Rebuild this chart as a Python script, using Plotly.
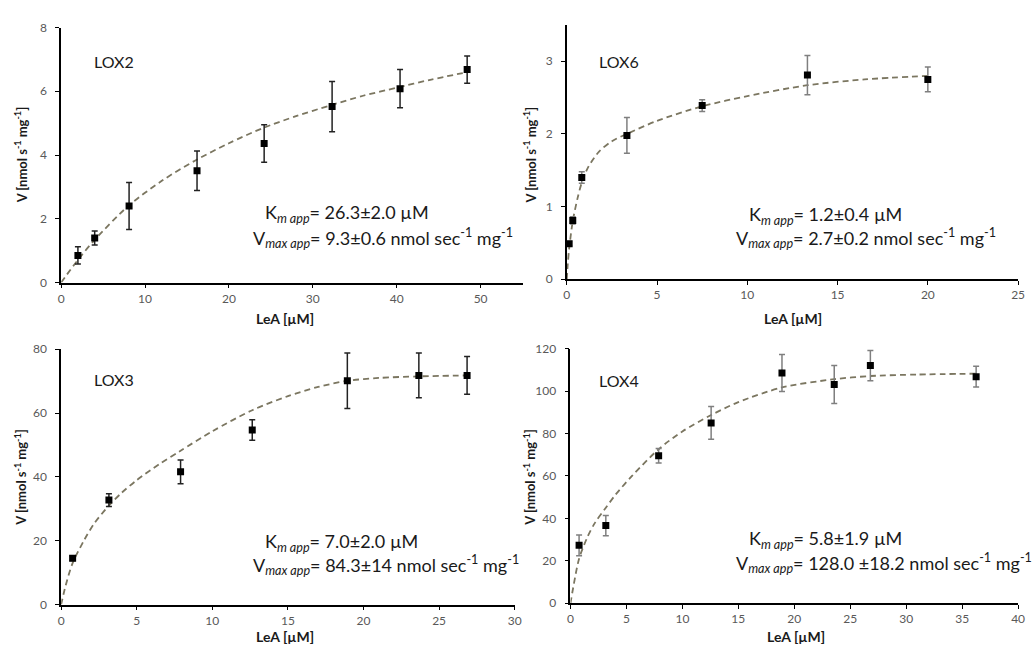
import plotly.graph_objects as go

W, H = 1035, 650

# ---------------- data ----------------
lox2_x = [2.0, 4.0, 8.1, 16.2, 24.2, 32.3, 40.4, 48.4]
lox2_y = [0.85, 1.40, 2.40, 3.51, 4.36, 5.52, 6.08, 6.68]
lox2_err = [0.27, 0.22, 0.74, 0.62, 0.59, 0.79, 0.60, 0.43]
lox2_fit_x = [0, 2, 4, 8, 12, 16, 20, 24, 28, 32, 36, 40, 44, 48.4]
lox2_fit_y = [0, 0.71, 1.34, 2.40, 3.19, 3.83, 4.37, 4.84, 5.22, 5.55, 5.86, 6.11, 6.36, 6.60]

lox6_x = [0.13, 0.33, 0.83, 3.33, 7.5, 13.33, 20.0]
lox6_y = [0.49, 0.81, 1.40, 1.98, 2.39, 2.81, 2.75]
lox6_err = [0.03, 0.05, 0.08, 0.245, 0.08, 0.27, 0.17]
lox6_fit_x = [0, 0.05, 0.13, 0.33, 0.6, 0.83, 1.2, 1.8, 2.5, 3.33, 5, 7.5, 10, 13.33, 16.5, 20]
lox6_fit_y = [0, 0.2, 0.42, 0.8, 1.12, 1.33, 1.55, 1.76, 1.90, 2.00, 2.18, 2.38, 2.52, 2.67, 2.75, 2.80]

lox3_x = [0.76, 3.16, 7.9, 12.64, 18.93, 23.66, 26.85]
lox3_y = [14.5, 32.75, 41.6, 54.7, 70.1, 71.8, 71.8]
lox3_err = [0.7, 2.0, 3.7, 3.2, 8.7, 7.0, 5.9]
lox3_fit_x = [0, 0.3, 0.76, 1.5, 2.2, 3.16, 4, 5, 6.5, 7.9, 10, 12.64, 15, 17, 18.93, 21, 23.66, 26.85]
lox3_fit_y = [0, 6, 13, 20, 25.5, 31, 35, 39, 44, 48.2, 54.3, 60.9, 65.3, 68.2, 70.1, 71.0, 71.5, 71.8]

lox4_x = [0.77, 3.16, 7.88, 12.57, 18.9, 23.57, 26.8, 36.25]
lox4_y = [27.3, 36.6, 69.5, 85.0, 108.5, 103.1, 112.0, 106.8]
lox4_err = [4.9, 4.8, 3.4, 7.7, 8.7, 9.0, 7.1, 4.9]
lox4_fit_x = [0, 0.3, 0.77, 1.5, 2.2, 3.16, 4, 5.5, 7.88, 10, 12.57, 15, 18.9, 23.57, 26.8, 31, 36.25]
lox4_fit_y = [0, 9, 21, 31, 38, 45, 51, 60, 72.6, 81, 88.7, 94.8, 101.7, 105.6, 107.1, 107.8, 108.2]

panel_names = ["LOX2", "LOX6", "LOX3", "LOX4"]
km_texts = ["26.3±2.0 µM", "1.2±0.4 µM", "7.0±2.0 µM", "5.8±1.9 µM"]
vmax_texts = ["9.3±0.6 nmol sec<sup>-1</sup> mg<sup>-1</sup>",
              "2.7±0.2 nmol sec<sup>-1</sup> mg<sup>-1</sup>",
              "84.3±14 nmol sec<sup>-1</sup> mg<sup>-1</sup>",
              "128.0 ±18.2 nmol sec<sup>-1</sup> mg<sup>-1</sup>"]

# ---------------- layout helpers ----------------
def px_x(p):
    return p / W

def px_y(p):
    return 1 - p / H

FONT = "Lato, 'Open Sans', sans-serif"
FIT_COLOR = "#7b7660"

panels = [
    dict(x=lox2_x, y=lox2_y, e=lox2_err, fx=lox2_fit_x, fy=lox2_fit_y,
         xr=[0, 55], xd=[0, 10, 20, 30, 40, 50], yr=[0, 8], yt=[0, 2, 4, 6, 8],
         dom_x=[58.7, 524.6], dom_y=[281, 20], ecol="#222222",
         label=(90, 55), km=(263, 210), vm=(250, 235), xt=(285, 318), yt_pos=(18, 150)),
    dict(x=lox6_x, y=lox6_y, e=lox6_err, fx=lox6_fit_x, fy=lox6_fit_y,
         xr=[0, 25], xd=[0, 5, 10, 15, 20, 25], yr=[0, 3.5], yt=[0, 1, 2, 3],
         dom_x=[569.3, 1025], dom_y=[277.7, 17.3], ecol="#7f7f7f",
         label=(600, 55), km=(751, 212), vm=(738, 235), xt=(798, 318), yt_pos=(532, 150)),
    dict(x=lox3_x, y=lox3_y, e=lox3_err, fx=lox3_fit_x, fy=lox3_fit_y,
         xr=[0, 30], xd=[0, 5, 10, 15, 20, 25, 30], yr=[0, 80], yt=[0, 20, 40, 60, 80],
         dom_x=[58.7, 516.7], dom_y=[610.7, 349.3], ecol="#222222",
         label=(90, 380), km=(263, 547), vm=(250, 570), xt=(285, 643), yt_pos=(18, 480)),
    dict(x=lox4_x, y=lox4_y, e=lox4_err, fx=lox4_fit_x, fy=lox4_fit_y,
         xr=[0, 40], xd=[0, 5, 10, 15, 20, 25, 30, 35, 40], yr=[0, 120], yt=[0, 20, 40, 60, 80, 100, 120],
         dom_x=[573, 1025], dom_y=[609.3, 348.7], ecol="#7f7f7f",
         label=(600, 381), km=(751, 544), vm=(738, 568), xt=(801, 643), yt_pos=(532, 480)),
]

fig = go.Figure()
annotations = []
layout = dict(
    width=W, height=H, margin=dict(l=0, r=0, t=0, b=0),
    paper_bgcolor="white", plot_bgcolor="white", showlegend=False,
    font=dict(family=FONT, color="#000000"),
)

for i, p in enumerate(panels):
    n = "" if i == 0 else str(i + 1)
    xa, ya = "x" + n, "y" + n
    fig.add_trace(go.Scatter(
        x=p["fx"], y=p["fy"], xaxis=xa, yaxis=ya, mode="lines",
        line=dict(color=FIT_COLOR, width=1.8, dash="6px,4px", shape="spline", smoothing=0.8),
        hoverinfo="skip"))
    fig.add_trace(go.Scatter(
        x=p["x"], y=p["y"], xaxis=xa, yaxis=ya, mode="markers",
        marker=dict(symbol="square", size=7, color="black"),
        error_y=dict(type="data", array=p["e"], visible=True, color=p["ecol"],
                     thickness=1.5, width=3)))
    axis_common = dict(showgrid=False, zeroline=False, showline=True, linecolor="black",
                       linewidth=1.6, ticks="outside", ticklen=4, tickwidth=1.3,
                       tickcolor="black", tickfont=dict(size=12, color="#595959", family=FONT))
    layout["xaxis" + n] = dict(axis_common, range=p["xr"], tickvals=p["xd"],
                               domain=[px_x(p["dom_x"][0]), px_x(p["dom_x"][1])],
                               anchor=ya, fixedrange=True)
    layout["yaxis" + n] = dict(axis_common, range=p["yr"], tickvals=p["yt"],
                               domain=[px_y(p["dom_y"][0]), px_y(p["dom_y"][1])],
                               anchor=xa, fixedrange=True, ticklabelstandoff=6)
    annotations.append(dict(xref="paper", yref="paper", x=px_x(p["label"][0]), y=px_y(p["label"][1]),
                            xanchor="left", yanchor="middle", showarrow=False,
                            text=panel_names[i], font=dict(size=16, color="#1a1a1a")))
    annotations.append(dict(xref="paper", yref="paper", x=px_x(p["km"][0]), y=px_y(p["km"][1]),
                            xanchor="left", yanchor="middle", showarrow=False,
                            text="K<sub><i>m app</i></sub>= " + km_texts[i],
                            font=dict(size=18, color="#1a1a1a")))
    annotations.append(dict(xref="paper", yref="paper", x=px_x(p["vm"][0]), y=px_y(p["vm"][1]),
                            xanchor="left", yanchor="middle", showarrow=False,
                            text="V<sub><i>max app</i></sub>= " + vmax_texts[i],
                            font=dict(size=18, color="#1a1a1a")))
    annotations.append(dict(xref="paper", yref="paper", x=px_x(p["xt"][0]), y=px_y(p["xt"][1]),
                            xanchor="center", yanchor="middle", showarrow=False,
                            text="<b>LeA [µM]</b>", font=dict(size=14, color="#1a1a1a")))
    annotations.append(dict(xref="paper", yref="paper", x=px_x(p["yt_pos"][0]), y=px_y(p["yt_pos"][1]),
                            xanchor="center", yanchor="middle", showarrow=False, textangle=-90,
                            text="<b>V [nmol s<sup>-1</sup> mg<sup>-1</sup>]</b>",
                            font=dict(size=13, color="#1a1a1a")))

layout["annotations"] = annotations
fig.update_layout(**layout)
fig.write_html("out.html", config={"displayModeBar": False},
               post_script="document.body.style.margin='0';document.body.style.overflow='hidden';")
